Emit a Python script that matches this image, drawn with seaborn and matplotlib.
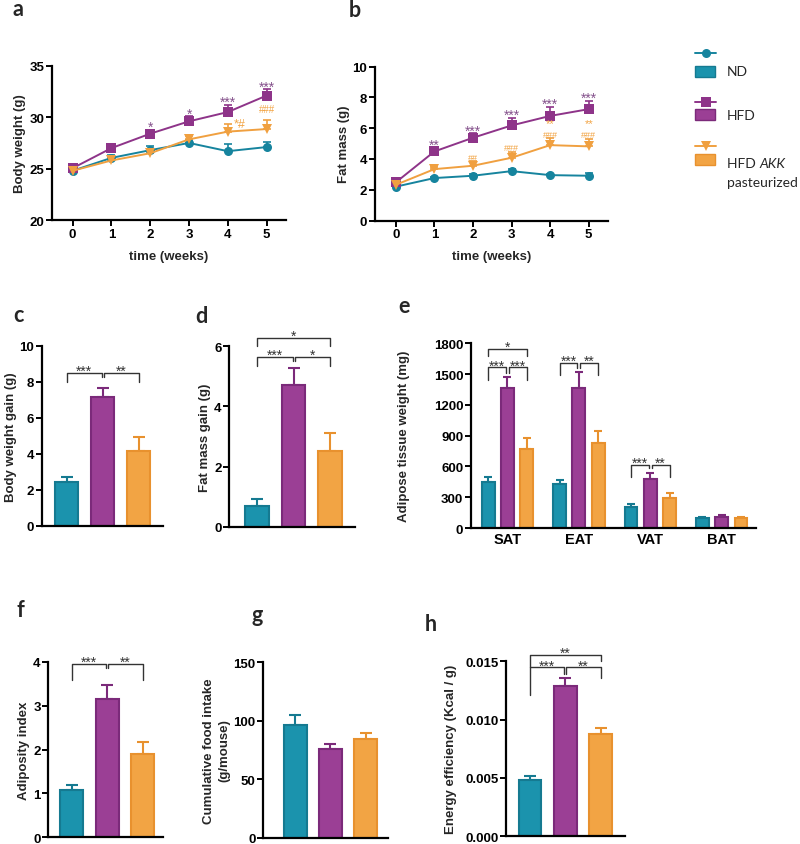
import numpy as np
import pandas as pd
import matplotlib
matplotlib.use('Agg')
import matplotlib.pyplot as plt
import seaborn as sns
from matplotlib.patches import Rectangle
from matplotlib.lines import Line2D

sns.set_theme(style='ticks')
plt.rcParams['font.family'] = ['Liberation Sans', 'DejaVu Sans']
plt.rcParams['font.weight'] = 'bold'
plt.rcParams['axes.labelweight'] = 'bold'

# ---------------- data ----------------
groups = ['ND', 'HFD', 'HFD AKK pasteurized']
weeks = [0, 1, 2, 3, 4, 5]

bw_nd = [24.8, 26.05, 26.8, 27.5, 26.7, 27.1]
bw_nd_err = [0.3, 0.25, 0.4, 0.3, 0.7, 0.5]
bw_hfd = [25.05, 27.0, 28.4, 29.6, 30.5, 32.1]
bw_hfd_err = [0.45, 0.3, 0.4, 0.5, 0.7, 0.6]
bw_akk = [24.8, 25.8, 26.5, 27.85, 28.6, 28.85]
bw_akk_err = [0.25, 0.3, 0.3, 0.35, 0.75, 0.85]

fm_nd = [2.2, 2.76, 2.91, 3.21, 2.95, 2.91]
fm_nd_err = [0.1, 0.1, 0.1, 0.15, 0.1, 0.15]
fm_hfd = [2.48, 4.49, 5.38, 6.18, 6.8, 7.24]
fm_hfd_err = [0.1, 0.25, 0.3, 0.5, 0.6, 0.55]
fm_akk = [2.32, 3.34, 3.56, 4.08, 4.9, 4.82]
fm_akk_err = [0.1, 0.15, 0.3, 0.4, 0.45, 0.5]

bwgain = [2.41, 7.13, 4.17]
bwgain_err = [0.28, 0.52, 0.77]
fmgain = [0.7, 4.72, 2.53]
fmgain_err = [0.22, 0.57, 0.58]

tissues = ['SAT', 'EAT', 'VAT', 'BAT']
at_nd = [452, 429, 201, 94]
at_nd_err = [48, 42, 33, 10]
at_hfd = [1361, 1368, 478, 104]
at_hfd_err = [108, 156, 58, 23]
at_akk = [770, 825, 292, 97]
at_akk_err = [104, 117, 46, 10]

adiposity = [1.085, 3.15, 1.89]
adiposity_err = [0.115, 0.32, 0.27]
food = [96.6, 75.6, 84.4]
food_err = [7.9, 4.8, 5.4]
energy = [0.00483, 0.01286, 0.00874]
energy_err = [0.00037, 0.00068, 0.00055]

# significance annotations
sig_a_hfd = ['', '', '*', '*', '***', '***']
sig_a_akk = ['', '', '', '', '*#', '###']
sig_b_hfd = ['', '**', '***', '***', '***', '***']
sig_b_akk_hash = ['', '', '##', '###', '###', '###']
sig_b_akk_star = ['', '', '', '', '**', '**']

# ---------------- style ----------------
fill = {'ND': '#1b93ad', 'HFD': '#9b3f95', 'HFD AKK pasteurized': '#f2a444'}
edge = {'ND': '#157a91', 'HFD': '#7b2a7a', 'HFD AKK pasteurized': '#e8912e'}
linec = {'ND': '#16849e', 'HFD': '#8e3489', 'HFD AKK pasteurized': '#f0a040'}
star_purple = '#85528c'
hash_orange = '#f2a444'
FS = 9.5

W, H = 800, 845
fig = plt.figure(figsize=(W / 100, H / 100), dpi=100)


def add_ax(left, top, right, bottom):
    return fig.add_axes([left / W, 1 - bottom / H, (right - left) / W, (bottom - top) / H])


def style_ax(ax):
    sns.despine(ax=ax)
    for s in ['left', 'bottom']:
        ax.spines[s].set_linewidth(1.6)
        ax.spines[s].set_color('black')
    ax.tick_params(axis='both', length=4, width=1.4, labelsize=FS, pad=1.5, colors='black')
    for lab in ax.get_yticklabels() + ax.get_xticklabels():
        lab.set_fontweight('bold')


# ---------------- line panels ----------------
def line_panel(ax, nd, nde, hfd, hfde, akk, akke, ylabel, ylim, yticks):
    df = pd.DataFrame({
        'week': weeks * 3,
        'value': nd + hfd + akk,
        'group': [groups[0]] * 6 + [groups[1]] * 6 + [groups[2]] * 6,
    })
    errs = {groups[0]: nde, groups[1]: hfde, groups[2]: akke}
    vals = {groups[0]: nd, groups[1]: hfd, groups[2]: akk}
    for g in groups:
        ax.errorbar(weeks, vals[g], yerr=[np.zeros(6), errs[g]], fmt='none',
                    ecolor=linec[g], elinewidth=1.2, capsize=3, capthick=1.2, zorder=1)
    sns.lineplot(data=df, x='week', y='value', hue='group', style='group',
                 hue_order=groups, style_order=groups,
                 markers={groups[0]: 'o', groups[1]: 's', groups[2]: 'v'}, dashes=False,
                 palette=linec, linewidth=1.4, markersize=6.5, markeredgewidth=0,
                 errorbar=None, legend=False, ax=ax, zorder=3)
    ax.set_xlim(-0.54, 5.5)
    ax.set_ylim(*ylim)
    ax.set_yticks(yticks)
    ax.set_xticks(weeks)
    ax.set_xlabel('time (weeks)', fontsize=FS, labelpad=7)
    ax.set_ylabel(ylabel, fontsize=FS, labelpad=2)
    style_ax(ax)


def note(ax, text, x, y, dy, color, size, ha='center', va='baseline', dx=0):
    ax.annotate(text, (x, y), xytext=(dx, dy), textcoords='offset points', ha=ha, va=va,
                fontsize=size, fontweight='normal', color=color, annotation_clip=False)


ax_a = add_ax(51.7, 66.7, 286, 221.2)
line_panel(ax_a, bw_nd, bw_nd_err, bw_hfd, bw_hfd_err, bw_akk, bw_akk_err,
           'Body weight (g)', (20, 35), [20, 25, 30, 35])
for w, s in zip(weeks, sig_a_hfd):
    if s:
        note(ax_a, s, w, bw_hfd[w] + bw_hfd_err[w], -1, star_purple, 10)
for w, s in zip(weeks, sig_a_akk):
    if s == '*#':
        note(ax_a, s, w, bw_akk[w] + bw_akk_err[w], 0, hash_orange, 9, ha='left', va='center', dx=4)
    elif s:
        note(ax_a, s, w, bw_akk[w] + bw_akk_err[w], 6, hash_orange, 7)

ax_b = add_ax(375, 67.7, 608, 221.5)
line_panel(ax_b, fm_nd, fm_nd_err, fm_hfd, fm_hfd_err, fm_akk, fm_akk_err,
           'Fat mass (g)', (0, 10), [0, 2, 4, 6, 8, 10])
for w, s in zip(weeks, sig_b_hfd):
    if s:
        note(ax_b, s, w, fm_hfd[w] + fm_hfd_err[w], -1, star_purple, 10)
for w in weeks:
    top = fm_akk[w] + fm_akk_err[w]
    if sig_b_akk_hash[w]:
        note(ax_b, sig_b_akk_hash[w], w, top, 1, hash_orange, 6.5)
    if sig_b_akk_star[w]:
        note(ax_b, sig_b_akk_star[w], w, top, 8.8, hash_orange, 8)


# ---------------- bar panels ----------------
def bracket(ax, x1, x2, y, t1, t2, label):
    ax.plot([x1, x1, x2, x2], [t1, y, y, t2], color='#333333', lw=1.0, clip_on=False, zorder=5)
    note(ax, label, (x1 + x2) / 2, y, -1.5, '#333333', 10)


def bar_panel(ax, vals, errs, ylabel, ylim, yticks, xlim, fmt=None, labelpad=2):
    df = pd.DataFrame({'group': groups, 'value': vals})
    sns.barplot(data=df, x='group', y='value', hue='group', order=groups, hue_order=groups,
                palette=fill, saturation=1, width=0.65, errorbar=None, legend=False, ax=ax,
                linewidth=1.5, zorder=2)
    for p, g in zip(ax.patches, groups):
        p.set_edgecolor(edge[g])
    xs = [p.get_x() + p.get_width() / 2 for p in ax.patches]
    for x, v, e, g in zip(xs, vals, errs, groups):
        ax.errorbar([x], [v], yerr=[[0], [e]], fmt='none', ecolor=edge[g], elinewidth=1.5,
                    capsize=4, capthick=1.5, zorder=1)
    ax.set_xlim(*xlim)
    ax.set_ylim(*ylim)
    ax.set_yticks(yticks)
    if fmt:
        ax.set_yticklabels([fmt % t for t in yticks])
    ax.set_xticks([])
    ax.set_xlabel('')
    ax.set_ylabel(ylabel, fontsize=FS, labelpad=labelpad, linespacing=1.4)
    style_ax(ax)
    return xs


ax_c = add_ax(41.7, 346.7, 163.3, 526.7)
xs = bar_panel(ax_c, bwgain, bwgain_err, 'Body weight gain (g)', (0, 10), [0, 2, 4, 6, 8, 10], (-0.69, 2.68))
bracket(ax_c, xs[0], xs[1] - 0.03, 8.5, 8.0, 8.25, '***')
bracket(ax_c, xs[1] + 0.03, xs[2], 8.5, 8.25, 8.0, '**')

ax_d = add_ax(229.3, 347.3, 355, 527.7)
xs = bar_panel(ax_d, fmgain, fmgain_err, 'Fat mass gain (g)', (0, 6), [0, 2, 4, 6], (-0.77, 2.69))
bracket(ax_d, xs[0], xs[2], 6.29, 6.02, 6.02, '*')
bracket(ax_d, xs[0], xs[1] - 0.03, 5.65, 5.35, 5.5, '***')
bracket(ax_d, xs[1] + 0.03, xs[2], 5.65, 5.5, 5.35, '*')

# panel e (grouped)
ax_e = add_ax(471, 344.3, 756, 529)
df_e = pd.DataFrame({
    'tissue': tissues * 3,
    'value': at_nd + at_hfd + at_akk,
    'group': [groups[0]] * 4 + [groups[1]] * 4 + [groups[2]] * 4,
})
errs_e = {groups[0]: at_nd_err, groups[1]: at_hfd_err, groups[2]: at_akk_err}
vals_e = {groups[0]: at_nd, groups[1]: at_hfd, groups[2]: at_akk}
sns.barplot(data=df_e, x='tissue', y='value', hue='group', order=tissues, hue_order=groups,
            palette=fill, saturation=1, width=0.81, gap=0.33, errorbar=None, legend=False, ax=ax_e,
            linewidth=1.5, zorder=2)
centers = {}
for g, cont in zip(groups, ax_e.containers):
    cx = []
    for p, v, e in zip(cont.patches, vals_e[g], errs_e[g]):
        p.set_edgecolor(edge[g])
        x = p.get_x() + p.get_width() / 2
        cx.append(x)
        ax_e.errorbar([x], [v], yerr=[[0], [e]], fmt='none', ecolor=edge[g], elinewidth=1.5,
                      capsize=3, capthick=1.5, zorder=1)
    centers[g] = cx
ax_e.set_xlim(-0.51, 3.48)
ax_e.set_ylim(0, 1800)
ax_e.set_yticks(range(0, 1801, 300))
ax_e.set_xlabel('')
ax_e.set_ylabel('Adipose tissue weight (mg)', fontsize=FS, labelpad=17)
style_ax(ax_e)
ax_e.tick_params(axis='x', length=0, labelsize=10.5, pad=3)
for lab in ax_e.get_xticklabels():
    lab.set_fontweight('bold')
nd_c, hf_c, ak_c = centers[groups[0]], centers[groups[1]], centers[groups[2]]
bracket(ax_e, nd_c[0], ak_c[0], 1745, 1680, 1680, '*')
bracket(ax_e, nd_c[0], hf_c[0] - 0.02, 1566, 1446, 1510, '***')
bracket(ax_e, hf_c[0] + 0.02, ak_c[0], 1566, 1510, 1446, '***')
bracket(ax_e, nd_c[1], hf_c[1] - 0.02, 1608, 1491, 1560, '***')
bracket(ax_e, hf_c[1] + 0.02, ak_c[1], 1608, 1560, 1491, '**')
bracket(ax_e, nd_c[2], hf_c[2] - 0.02, 617, 494, 580, '***')
bracket(ax_e, hf_c[2] + 0.02, ak_c[2], 617, 580, 494, '**')

ax_f = add_ax(48.3, 662.7, 163.3, 838.3)
xs = bar_panel(ax_f, adiposity, adiposity_err, 'Adiposity index', (0, 4), [0, 1, 2, 3, 4], (-0.66, 2.58))
bracket(ax_f, xs[0], xs[1] - 0.03, 3.95, 3.58, 3.85, '***')
bracket(ax_f, xs[1] + 0.03, xs[2], 3.95, 3.85, 3.58, '**')

ax_g = add_ax(263.3, 663.3, 388.3, 838.5)
bar_panel(ax_g, food, food_err, 'Cumulative food intake\n(g/mouse)', (0, 150), [0, 50, 100, 150], (-0.9, 2.64))

ax_h = add_ax(506, 662.3, 625, 837.3)
xs = bar_panel(ax_h, energy, energy_err, 'Energy efficiency (Kcal / g)', (0, 0.015),
               [0, 0.005, 0.010, 0.015], (-0.68, 2.69), fmt='%.3f', labelpad=6)
bracket(ax_h, xs[0], xs[2], 0.01554, 0.01449, 0.01505, '**')
bracket(ax_h, xs[0], xs[1] - 0.03, 0.01449, 0.01214, 0.01391, '***')
bracket(ax_h, xs[1] + 0.03, xs[2], 0.01449, 0.01391, 0.01354, '**')

# ---------------- overlay: letters and legend ----------------
ov = fig.add_axes([0, 0, 1, 1], zorder=-1)
ov.set_xlim(0, W)
ov.set_ylim(H, 0)
ov.axis('off')

letters = [('a', 12.7, 16.5), ('b', 348.3, 17), ('c', 13.3, 321.7), ('d', 195, 323),
           ('e', 398, 313), ('f', 16.7, 616.7), ('g', 251.7, 622), ('h', 425, 631)]
for t, x, y in letters:
    ov.text(x, y, t, fontsize=15.5, fontweight='bold', family=['Lato', 'DejaVu Sans'],
            ha='left', va='baseline')

leg_y = [(54.3, 72.2), (102.7, 115.5), (146.7, 160.5)]
leg_m = ['o', 's', 'v']
LF = dict(fontsize=10, fontweight='normal', family=['Lato', 'DejaVu Sans'])
for g, (ly, py), m in zip(groups, leg_y, leg_m):
    ov.add_line(Line2D([695, 716], [ly, ly], color=linec[g], lw=1.4))
    ov.plot([705.5], [ly], marker=m, color=linec[g], markersize=6.5, markeredgewidth=0)
    ov.add_patch(Rectangle((695, py - 5.5), 20, 11, facecolor=fill[g], edgecolor=edge[g], lw=1))
ov.text(727, 72.2, 'ND', ha='left', va='center', **LF)
ov.text(727, 116.5, 'HFD', ha='left', va='center', **LF)
t1 = ov.text(727, 164, 'HFD ', ha='left', va='center', **LF)
ov.annotate('AKK', xy=(1, 0.5), xycoords=t1, ha='left', va='center', style='italic', **LF)
ov.text(727, 183.3, 'pasteurized', ha='left', va='center', **LF)

fig.savefig('out.png', dpi=100)
